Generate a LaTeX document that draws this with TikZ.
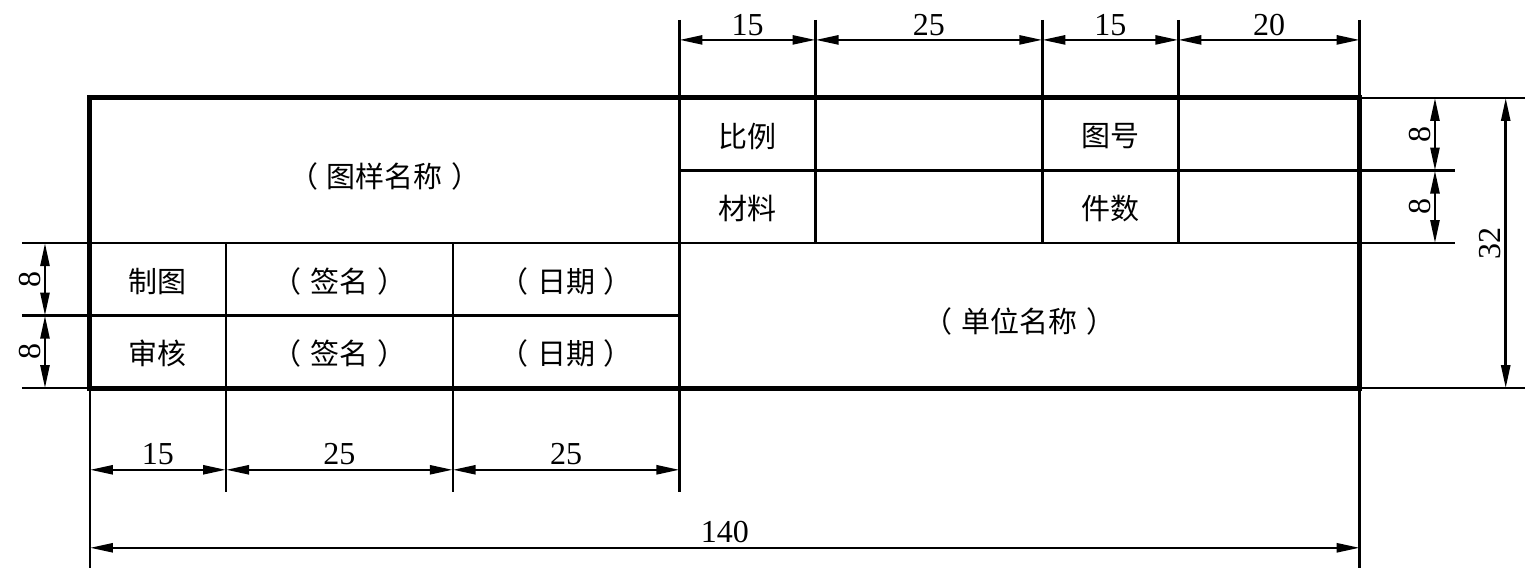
\documentclass[tikz,border=0pt]{standalone}
\usepackage{fontspec}
\setmainfont{Liberation Serif}
\newfontfamily\cjk{Noto Sans CJK SC}
\usepackage{tikz}
\usetikzlibrary{arrows.meta}
\newcommand{\kuo}[1]{（\hspace{0.3em}#1\hspace{0.3em}）}

\begin{document}
\begin{tikzpicture}[x=9.07pt,y=9.07pt,line width=2.5pt]
	\tikzstyle{dim}=[{Triangle[length=23pt,width=9pt]}-{Triangle[length=23pt,width=9pt]}]
	\tikzstyle{every node}=[font=\fontsize{32}{36}\selectfont]
	\tikzstyle{cell}=[font=\fontsize{29}{34}\selectfont\cjk]
	\useasboundingbox (-9.92,10.8) rectangle (159.33,-52.37);
	% frame and cells
	\draw[line width=5pt] (0,0) rectangle (140,-32);
	\draw (0,-16) -- (140,-16) (65,-8) -- (140,-8) (0,-24) -- (65,-24);
	\draw (65,8.6) -- (65,-43.5) (80,8.6) -- (80,-16) (105,8.6) -- (105,-16) (120,8.6) -- (120,-16) (140,8.6) -- (140,-51.8);
	\draw (15,-16) -- (15,-43.5) (40,-16) -- (40,-43.5) (0,-32) -- (0,-51.8);
	% extension lines
	\draw (140,0) -- (158.2,0) (140,-32) -- (158.2,-32) (140,-8) -- (150.5,-8) (140,-16) -- (150.5,-16);
	\draw (-7.5,-16) -- (0,-16) (-7.5,-24) -- (0,-24) (-7.5,-32) -- (0,-32);
	% texts
	\node[cell] (title) at (32.5,-8.7) {\kuo{图样名称}};
	\node[cell] (bili) at (72.5,-4.2) {比例};
	\node[cell] (tuhao) at (112.5,-4.2) {图号};
	\node[cell] (cailiao) at (72.5,-12.2) {材料};
	\node[cell] (jianshu) at (112.5,-12.2) {件数};
	\node[cell] (zhitu) at (7.5,-20.2) {制图};
	\node[cell] (shenhe) at (7.5,-28.2) {审核};
	\node[cell] (qianming1) at (27.5,-20.2) {\kuo{签名}};
	\node[cell] (qianming2) at (27.5,-28.2) {\kuo{签名}};
	\node[cell] (riqi1) at (52.5,-20.2) {\kuo{日期}};
	\node[cell] (riqi2) at (52.5,-28.2) {\kuo{日期}};
	\node[cell] (danwei) at (102.5,-24.6) {\kuo{单位名称}};
	% dimensions
	\foreach \a/\b/\t [count=\i] in {65/80/15,80/105/25,105/120/15,120/140/20}{
		\coordinate (ta\i) at (\a,6.4);
		\coordinate (tb\i) at (\b,6.4);
		\draw[dim] (ta\i) -- (tb\i) node[midway,above] (tl\i) {\t};
	}
	\foreach \a/\b/\t [count=\i] in {0/15/15,15/40/25,40/65/25}{
		\coordinate (ba\i) at (\a,-41);
		\coordinate (bb\i) at (\b,-41);
		\draw[dim] (ba\i) -- (bb\i) node[midway,above] (bl\i) {\t};
	}
	\coordinate (wa) at (0,-49.6);
	\coordinate (wb) at (140,-49.6);
	\draw[dim] (wa) -- (wb) node[midway,above] (wl) {140};
	\foreach \a/\b [count=\i] in {0/-8,-8/-16}{
		\coordinate (ra\i) at (148.3,\a);
		\coordinate (rb\i) at (148.3,\b);
		\draw[dim] (ra\i) -- (rb\i) node[midway,rotate=90,anchor=south] (rl\i) {8};
	}
	\coordinate (ha) at (156.1,0);
	\coordinate (hb) at (156.1,-32);
	\draw[dim] (ha) -- (hb) node[midway,rotate=90,anchor=south] (hl) {32};
	\foreach \a/\b [count=\i] in {-16/-24,-24/-32}{
		\coordinate (la\i) at (-4.96,\a);
		\coordinate (lb\i) at (-4.96,\b);
		\draw[dim] (la\i) -- (lb\i) node[midway,rotate=90,anchor=south] (ll\i) {8};
	}
\end{tikzpicture}
\end{document}
